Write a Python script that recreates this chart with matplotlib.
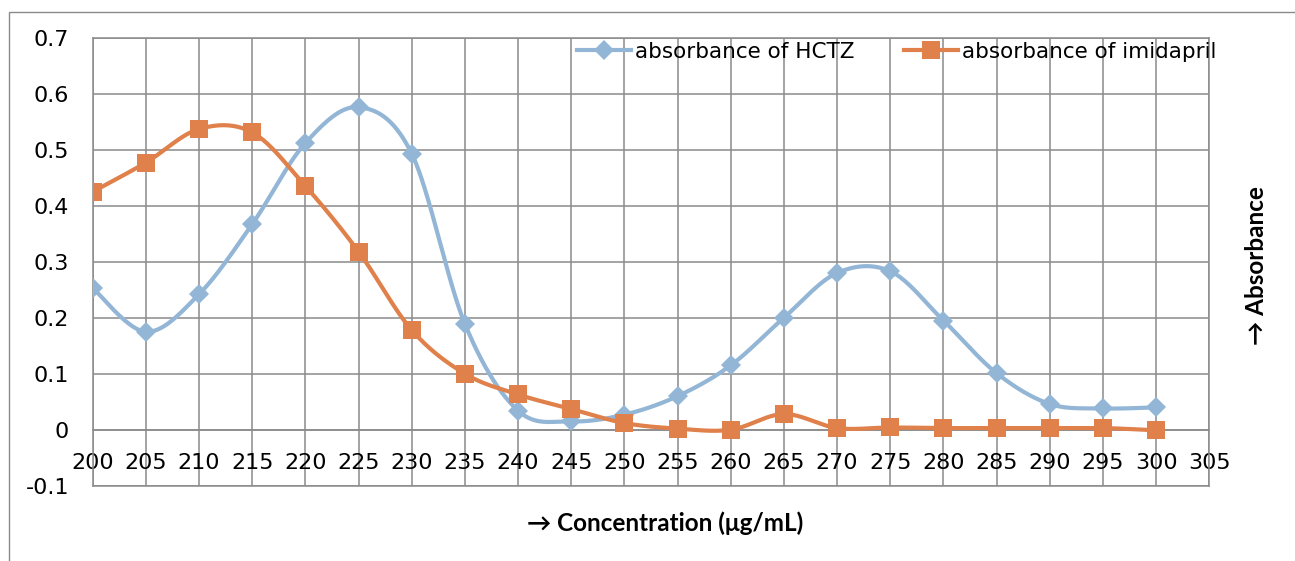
import numpy as np
import matplotlib
matplotlib.use("Agg")
import matplotlib.pyplot as plt
from matplotlib.lines import Line2D
from matplotlib.patches import Rectangle

# Data
wavelength = [200, 205, 210, 215, 220, 225, 230, 235, 240, 245, 250,
              255, 260, 265, 270, 275, 280, 285, 290, 295, 300]
hctz = [0.254, 0.176, 0.243, 0.368, 0.513, 0.577, 0.494, 0.190, 0.035, 0.016, 0.028,
        0.061, 0.116, 0.201, 0.281, 0.284, 0.196, 0.102, 0.047, 0.039, 0.041]
imidapril = [0.426, 0.478, 0.538, 0.532, 0.436, 0.319, 0.179, 0.101, 0.064, 0.038, 0.013,
             0.003, 0.001, 0.029, 0.004, 0.005, 0.004, 0.004, 0.004, 0.004, 0.000]

x_ticks = list(range(200, 306, 5))
y_ticks = [-0.1, 0, 0.1, 0.2, 0.3, 0.4, 0.5, 0.6, 0.7]
y_labels = ["-0.1", "0", "0.1", "0.2", "0.3", "0.4", "0.5", "0.6", "0.7"]

BLUE = "#93B6D6"
ORANGE = "#E0804A"
GRID = "#8A8A8A"
FS = 16


# Excel-style smoothed line (Catmull-Rom through the points as Bezier segments)
def smooth(x, y, n=40):
    pts = np.column_stack([x, y]).astype(float)
    p = np.vstack([pts[0], pts, pts[-1]])
    t = np.linspace(0, 1, n)[:, None]
    out = []
    for i in range(1, len(p) - 2):
        p0, p1, p2, p3 = p[i - 1], p[i], p[i + 1], p[i + 2]
        c1 = p1 + (p2 - p0) / 6
        c2 = p2 - (p3 - p1) / 6
        seg = (1 - t) ** 3 * p1 + 3 * (1 - t) ** 2 * t * c1 + 3 * (1 - t) * t ** 2 * c2 + t ** 3 * p2
        out.append(seg if i == 1 else seg[1:])
    out = np.vstack(out)
    return out[:, 0], out[:, 1]


plt.rcParams["font.family"] = ["DejaVu Sans"]

fig = plt.figure(figsize=(12.95, 5.61), dpi=100)
fig.patches.append(Rectangle((9 / 1295, -0.5), 1.5, 0.5 + 1 - 12 / 561,
                             transform=fig.transFigure, fill=False,
                             edgecolor=GRID, linewidth=1.0))

ax = fig.add_axes([92.7 / 1295, 1 - 486.3 / 561, (1209.3 - 92.7) / 1295, (486.3 - 38.3) / 561])

# lines
xs, ys = smooth(wavelength, hctz)
ax.plot(xs, ys, color=BLUE, lw=3.0, solid_capstyle="round", zorder=3)
ax.plot(wavelength, hctz, ls="none", marker="D", ms=10.5, color=BLUE, mew=0, zorder=3)

xs, ys = smooth(wavelength, imidapril)
ax.plot(xs, ys, color=ORANGE, lw=3.0, solid_capstyle="round", zorder=4)
ax.plot(wavelength, imidapril, ls="none", marker="s", ms=13, color=ORANGE, mew=0, zorder=4)

ax.set_xlim(200, 305)
ax.set_ylim(-0.1, 0.7)
ax.set_xticks(x_ticks)
ax.set_xticklabels([str(v) for v in x_ticks])
ax.set_yticks(y_ticks)
ax.set_yticklabels(y_labels)
ax.tick_params(axis="both", length=0, labelsize=FS)
ax.tick_params(axis="x", pad=16)
ax.tick_params(axis="y", pad=17)

ax.grid(True, color=GRID, lw=1.1)
ax.set_axisbelow(True)
for s in ax.spines.values():
    s.set_color(GRID)
    s.set_linewidth(1.1)
ax.spines["bottom"].set_position(("data", 0))
ax.axhline(-0.1, color=GRID, lw=1.1, clip_on=False, zorder=0.5)

# legend
handles = [
    Line2D([], [], color=BLUE, lw=3.0, marker="D", ms=10.5, mew=0),
    Line2D([], [], color=ORANGE, lw=3.0, marker="s", ms=13, mew=0),
]
fig.legend(handles, ["absorbance of HCTZ", "absorbance of imidapril"],
           loc="center left", bbox_to_anchor=(577 / 1295, 1 - 52 / 561),
           ncol=2, frameon=False, fontsize=15.5, handlelength=2.5,
           handletextpad=0.2, columnspacing=2.3, borderpad=0, borderaxespad=0,
           numpoints=1)

# axis titles
fig.text(665 / 1295, 1 - 523 / 561, "\u2192 Concentration (\u03bcg/mL)",
         ha="center", va="center", fontsize=17.5, fontweight="bold",
         family=["Lato", "DejaVu Sans"])
fig.text(1257 / 1295, 1 - 266 / 561, "\u2192 Absorbance", rotation=90,
         ha="center", va="center", fontsize=17.5, fontweight="bold",
         family=["Lato", "DejaVu Sans"])

fig.savefig("out.png", dpi=100)
